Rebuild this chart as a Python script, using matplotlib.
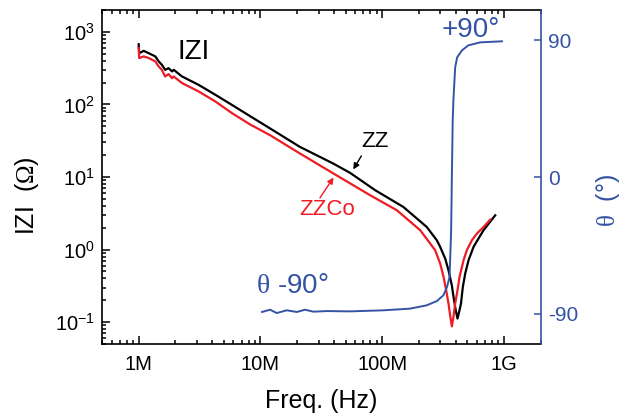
import matplotlib
matplotlib.use("Agg")
import matplotlib.pyplot as plt
import numpy as np

plt.rcParams['font.family'] = ['Liberation Sans', 'DejaVu Sans']
plt.rcParams['mathtext.fontset'] = 'custom'
plt.rcParams['mathtext.rm'] = 'Liberation Serif'
plt.rcParams['mathtext.it'] = 'Liberation Serif:italic'
plt.rcParams['axes.unicode_minus'] = False

BLUE = '#3553a4'
RED = '#ee1c24'

# |Z| of ZZ (black) and ZZCo (red)
freq_zz = [1.00e6, 1.01e6, 1.10e6, 1.21e6, 1.37e6, 1.46e6, 1.55e6, 1.65e6, 1.76e6,
           1.88e6, 1.94e6, 2.27e6, 3.11e6, 4.26e6, 5.83e6, 8.22e6, 12.0e6, 21.1e6,
           39.7e6, 54.5e6, 87.5e6, 149e6, 232e6, 281e6, 299e6, 329e6, 350e6, 373e6,
           385e6, 400e6, 415e6, 431e6, 443e6, 459e6, 480e6, 511e6, 562e6, 617e6,
           679e6, 847e6]
z_zz = [676, 508, 548, 508, 459, 392, 352, 300, 316, 285, 300, 243, 186, 136, 98.6,
        69, 46.7, 26, 15.3, 11.4, 6.58, 3.87, 2.05, 1.34, 1.09, 0.75, 0.518, 0.32,
        0.222, 0.15, 0.112, 0.146, 0.18, 0.306, 0.467, 0.712, 1.09, 1.42, 1.85, 2.97]

freq_zzco = [1.00e6, 1.01e6, 1.10e6, 1.21e6, 1.37e6, 1.46e6, 1.55e6, 1.65e6, 1.76e6,
             1.88e6, 1.94e6, 2.27e6, 3.11e6, 4.26e6, 5.83e6, 8.22e6, 12.0e6, 21.1e6,
             39.7e6, 79.6e6, 132e6, 205e6, 272e6, 299e6, 319e6, 335e6, 350e6, 362e6,
             373e6, 385e6, 397e6, 415e6, 431e6, 465e6, 495e6, 544e6, 598e6, 679e6,
             771e6]
z_zzco = [598, 436, 459, 436, 392, 334, 300, 243, 262, 230, 243, 197, 151, 110, 76,
          53, 37.7, 21.1, 11.2, 5.61, 3.48, 1.85, 0.98, 0.643, 0.419, 0.275, 0.18,
          0.12, 0.0875, 0.12, 0.18, 0.275, 0.419, 0.712, 0.98, 1.34, 1.66, 2.05, 2.59]

# phase angle
freq_th = [10.3e6, 12.0e6, 13.6e6, 16.4e6, 19.9e6, 23.2e6, 27.2e6, 35.1e6, 54.5e6,
           102e6, 169e6, 232e6, 281e6, 318e6, 340e6, 357e6, 368e6, 373e6, 379e6,
           384e6, 397e6, 412e6, 451e6, 508e6, 637e6, 961e6]
theta = [-88.9, -87.4, -89.6, -87.8, -88.9, -87.4, -88.7, -88.3, -88.5, -87.8, -86.7,
         -84.5, -81.7, -77.9, -72.5, -65.9, -35, 0.4, 37.3, 50.5, 72.2, 78.8, 83.4,
         86.7, 88.7, 89.4]

xticks = [1e6, 1e7, 1e8, 1e9]
xtick_labels = ['1M', '10M', '100M', '1G']
theta_ticks = [-90, 0, 90]

fig = plt.figure(figsize=(6.25, 4.18), dpi=100)
ax = fig.add_axes([0.1632, 0.177, 0.7019, 0.799])

ax.plot(freq_zz, z_zz, color='black', lw=1.6)
ax.plot(freq_zzco, z_zzco, color=RED, lw=1.6)
ax.set_xscale('log')
ax.set_yscale('log')
ax.set_xlim(5e5, 2e9)
ax.set_ylim(0.05, 2000)
ax.set_xticks(xticks)
ax.set_xticklabels(xtick_labels)
ax.tick_params(which='both', direction='in', top=True, right=False, width=1.1)
ax.tick_params(which='major', length=6, labelsize=14.5)
ax.tick_params(axis='x', which='major', pad=8)
ax.tick_params(axis='y', which='major', pad=5)
ax.tick_params(which='minor', length=3)
for s in ['left', 'bottom', 'top']:
    ax.spines[s].set_linewidth(1.2)
ax.spines['right'].set_visible(False)

ax.text(2.85e6, 525, 'IZI', fontsize=20, ha='center', va='center')
ax.text(87.5e6, 30.5, 'ZZ', fontsize=16, ha='center', va='center')
ax.text(35.6e6, 3.6, 'ZZCo', fontsize=16, ha='center', va='center', color=RED)
ax.annotate('', xy=(56.3e6, 11.8), xytext=(69.3e6, 21.1),
            arrowprops=dict(arrowstyle='-|>', color='black', lw=1, mutation_scale=9))
ax.annotate('', xy=(41e6, 10.6), xytext=(29.9e6, 4.79),
            arrowprops=dict(arrowstyle='-|>', color=RED, lw=1, mutation_scale=9))

ax2 = ax.twinx()
ax2.plot(freq_th, theta, color=BLUE, lw=1.4)
ax2.set_ylim(-110, 110)
ax2.set_yticks(theta_ticks)
ax2.tick_params(axis='y', direction='in', length=5, width=1.1, colors=BLUE,
                labelsize=15, pad=5)
for s in ['left', 'bottom', 'top']:
    ax2.spines[s].set_visible(False)
ax2.spines['right'].set_color(BLUE)
ax2.spines['right'].set_linewidth(1.2)

ax2.text(537e6, 97, '+90°', fontsize=20, ha='center', va='center', color=BLUE)
ax2.text(18.1e6, -72, r'$\mathrm{\theta}$ -90°', fontsize=20, ha='center',
         va='center', color=BLUE)

fig.text(27 / 625, 1 - 196 / 418, r'IZI  ($\mathrm{\Omega}$)', fontsize=18,
         rotation=90, ha='center', va='center')
fig.text(608 / 625, 1 - 200 / 418, r'$\mathrm{\theta}$  (°)', fontsize=18,
         rotation=90, ha='center', va='center', color=BLUE)
fig.text(321.5 / 625, 1 - 401 / 418, 'Freq. (Hz)', fontsize=18, ha='center',
         va='center')

fig.savefig('out.png', dpi=100)
